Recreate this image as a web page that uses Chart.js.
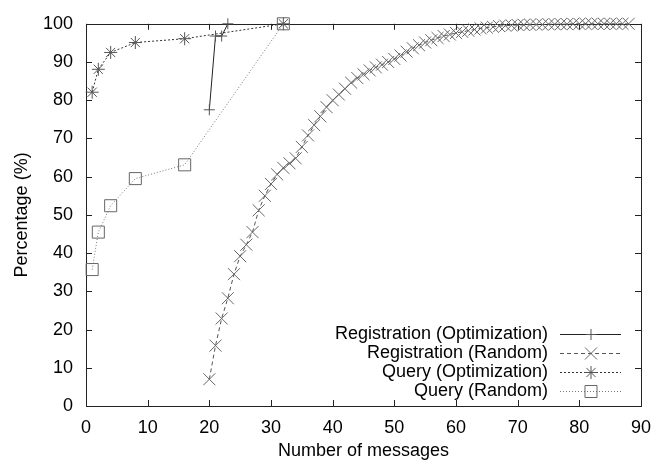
<!DOCTYPE html>
<html><head><meta charset="utf-8">
<script src="https://cdn.jsdelivr.net/npm/chart.js@4/dist/chart.umd.min.js"></script>
<style>html,body{margin:0;padding:0;background:#fff;}</style>
</head><body>
<canvas id="c" width="662" height="464"></canvas>
<script>
const xTicks = [0, 10, 20, 30, 40, 50, 60, 70, 80, 90];
const yTicks = [0, 10, 20, 30, 40, 50, 60, 70, 80, 90, 100];

const seriesNames = ["Registration (Optimization)", "Registration (Random)", "Query (Optimization)", "Query (Random)"];

const regOptX = [20, 21, 22, 23];
const regOptY = [77.5, 96.8, 96.8, 100];

const regRandX = [20,21,22,23,24,25,26,27,28,29,30,31,32,33,34,35,36,37,38,39,40,41,42,43,44,45,46,47,48,49,50,51,52,53,54,55,56,57,58,59,60,61,62,63,64,65,66,67,68,69,70,71,72,73,74,75,76,77,78,79,80,81,82,83,84,85,86,87,88];
const regRandY = [7,15.8,22.9,28.2,34.5,39.2,42.2,45.5,51.2,55,58.1,60.6,62.3,63.5,64.8,67.8,70.8,73.5,75.8,78.2,80,81.5,83,84.6,85.8,86.8,87.8,88.6,89.3,90,90.8,91.7,92.7,93.6,94.4,95.1,95.7,96.3,96.8,97.2,97.6,97.9,98.2,98.5,98.8,99,99.2,99.4,99.5,99.6,99.7,99.7,99.8,99.8,99.8,99.9,99.9,99.9,99.9,100,100,100,100,100,100,100,100,100,100];

const queryOptX = [1, 2, 4, 8, 16, 32];
const queryOptY = [82.1, 88.1, 92.5, 95.1, 96.1, 100];

const queryRandX = [1, 2, 4, 8, 16, 32];
const queryRandY = [35.7, 45.5, 52.4, 59.5, 63.1, 100];

const pts = (xs, ys) => xs.map((x, i) => ({x: x, y: ys[i]}));

Chart.defaults.font.family = '"Liberation Sans", Arial, Helvetica, sans-serif';
Chart.defaults.color = '#000';

const FONT = 18;

const framePlugin = {
  id: 'frame',
  beforeDatasetsDraw(chart) {
    const ctx = chart.ctx, a = chart.chartArea;
    const xs = chart.scales.x, ys = chart.scales.y;
    const L = 6;
    ctx.save();
    ctx.strokeStyle = '#222';
    ctx.lineWidth = 1;
    ctx.beginPath();
    xTicks.forEach(v => {
      const px = Math.round(xs.getPixelForValue(v)) + 0.5;
      ctx.moveTo(px, a.bottom); ctx.lineTo(px, a.bottom - L);
      ctx.moveTo(px, a.top); ctx.lineTo(px, a.top + L);
    });
    yTicks.forEach(v => {
      const py = Math.round(ys.getPixelForValue(v)) + 0.5;
      ctx.moveTo(a.left, py); ctx.lineTo(a.left + L, py);
      ctx.moveTo(a.right, py); ctx.lineTo(a.right - L, py);
    });
    ctx.stroke();
    ctx.strokeRect(Math.round(a.left) + 0.5, Math.round(a.top) + 0.5, Math.round(a.right - a.left), Math.round(a.bottom - a.top));
    ctx.restore();
  }
};

const legendPlugin = {
  id: 'gpLegend',
  afterDraw(chart) {
    const ctx = chart.ctx;
    const textRight = 548, lineL = 560, lineR = 621, mk = 591;
    const y0 = 334, dy = 19;
    ctx.save();
    chart.data.datasets.forEach((ds, i) => {
      const y = y0 + dy * i;
      ctx.font = FONT + 'px "Liberation Sans", Arial, sans-serif';
      ctx.fillStyle = '#000';
      ctx.textAlign = 'right';
      ctx.textBaseline = 'middle';
      ctx.fillText(ds.label, textRight, y);
      ctx.strokeStyle = ds.borderColor;
      ctx.lineWidth = 1;
      ctx.setLineDash(ds.borderDash || []);
      ctx.beginPath();
      ctx.moveTo(lineL, Math.round(y) + 0.5);
      ctx.lineTo(lineR, Math.round(y) + 0.5);
      ctx.stroke();
      ctx.setLineDash([]);
      ctx.strokeStyle = ds.pointBorderColor;
      ctx.fillStyle = 'rgba(0,0,0,0)';
      Chart.helpers.drawPoint(ctx, {pointStyle: ds.pointStyle, radius: ds.pointRadius, rotation: 0, borderWidth: 1}, mk, Math.round(y) + 0.5);
    });
    ctx.restore();
  }
};

new Chart(document.getElementById('c'), {
  type: 'scatter',
  data: {
    datasets: [
      {
        label: seriesNames[0], data: pts(regOptX, regOptY), showLine: true,
        borderColor: '#222', borderWidth: 1, borderDash: [],
        pointStyle: 'cross', pointRadius: 5.5, pointBorderColor: '#555', pointBackgroundColor: 'rgba(0,0,0,0)', pointBorderWidth: 1,
        clip: false, order: 1
      },
      {
        label: seriesNames[1], data: pts(regRandX, regRandY), showLine: true,
        borderColor: '#555', borderWidth: 1, borderDash: [4, 3],
        pointStyle: 'crossRot', pointRadius: 8.5, pointBorderColor: '#666', pointBackgroundColor: 'rgba(0,0,0,0)', pointBorderWidth: 1,
        clip: false, order: 2
      },
      {
        label: seriesNames[2], data: pts(queryOptX, queryOptY), showLine: true,
        borderColor: '#333', borderWidth: 1, borderDash: [2, 2],
        pointStyle: 'star', pointRadius: 6.5, pointBorderColor: '#555', pointBackgroundColor: 'rgba(0,0,0,0)', pointBorderWidth: 1,
        clip: false, order: 3
      },
      {
        label: seriesNames[3], data: pts(queryRandX, queryRandY), showLine: true,
        borderColor: '#777', borderWidth: 1, borderDash: [1, 2],
        pointStyle: 'rect', pointRadius: 8.5, pointBorderColor: '#666', pointBackgroundColor: 'rgba(0,0,0,0)', pointBorderWidth: 1,
        clip: false, order: 4
      }
    ]
  },
  options: {
    responsive: false,
    animation: false,
    devicePixelRatio: 1,
    layout: {padding: {left: 0, top: 14, right: 19, bottom: 0}},
    plugins: {legend: {display: false}, tooltip: {enabled: false}},
    elements: {line: {tension: 0}},
    scales: {
      x: {
        type: 'linear', min: 0, max: 90,
        afterBuildTicks: s => { s.ticks = xTicks.map(v => ({value: v})); },
        afterFit: s => { s.height = 58; },
        grid: {display: false, drawTicks: false},
        border: {display: false},
        ticks: {font: {size: FONT}, color: '#000', padding: 11, maxRotation: 0},
        title: {display: true, text: 'Number of messages', font: {size: FONT}, color: '#000', padding: {top: 0, bottom: 2}}
      },
      y: {
        type: 'linear', min: 0, max: 100,
        afterBuildTicks: s => { s.ticks = yTicks.map(v => ({value: v})); },
        afterFit: s => { s.width = 86; },
        grid: {display: false, drawTicks: false},
        border: {display: false},
        ticks: {font: {size: FONT}, color: '#000', padding: 13},
        title: {display: true, text: 'Percentage (%)', font: {size: FONT}, color: '#000', padding: {top: 11, bottom: 0}}
      }
    }
  },
  plugins: [framePlugin, legendPlugin]
});
</script>
</body></html>
